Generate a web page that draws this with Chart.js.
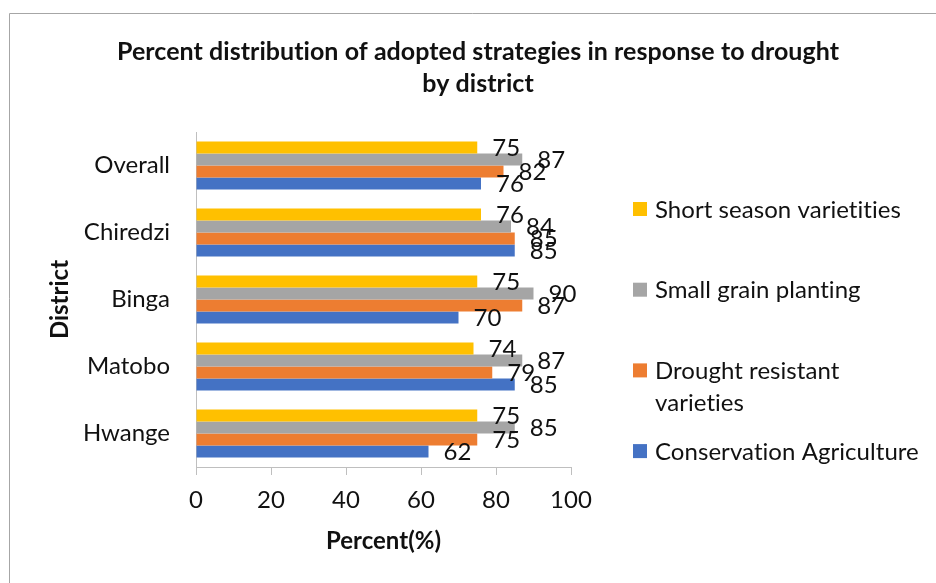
<!DOCTYPE html>
<html><head><meta charset="utf-8">
<script src="https://cdn.jsdelivr.net/npm/chart.js@4.4.1/dist/chart.umd.min.js"></script>
<style>html,body{margin:0;padding:0;background:#fff;} canvas{display:block;}</style>
</head><body>
<canvas id="c" width="936" height="583"></canvas>
<script>
const titleLines = ['Percent distribution of adopted strategies in response to drought', 'by district'];
const districts = ['Overall', 'Chiredzi', 'Binga', 'Matobo', 'Hwange'];
const seriesNames = ['Short season varietities', 'Small grain planting', 'Drought resistant varieties', 'Conservation Agriculture'];
const shortSeason = [75, 76, 75, 74, 75];
const smallGrain = [87, 84, 90, 87, 85];
const droughtResistant = [82, 85, 87, 79, 75];
const conservationAg = [76, 85, 70, 85, 62];
const xTicks = [0, 20, 40, 60, 80, 100];
const xTitle = 'Percent(%)';
const yTitle = 'District';
const seriesColors = ['#FFC000', '#A5A5A5', '#ED7D31', '#4472C4'];
const seriesValues = [shortSeason, smallGrain, droughtResistant, conservationAg];

const FONT = 'Lato';
const TXT = '#111111';
const AXIS = '#BFBFBF';

const decor = {
  id: 'decor',
  beforeDraw(chart) {
    const ctx = chart.ctx;
    ctx.save();
    ctx.fillStyle = '#fff';
    ctx.fillRect(0, 0, chart.width, chart.height);
    ctx.strokeStyle = '#A6A6A6';
    ctx.lineWidth = 1;
    ctx.beginPath();
    ctx.moveTo(9.5, chart.height);
    ctx.lineTo(9.5, 13.5);
    ctx.lineTo(chart.width, 13.5);
    ctx.stroke();
    ctx.restore();
  },
  afterDraw(chart) {
    const ctx = chart.ctx;
    ctx.save();
    if ('letterSpacing' in ctx) ctx.letterSpacing = '0.05px';
    // title
    ctx.fillStyle = TXT;
    ctx.font = 'bold 25px ' + FONT;
    ctx.textAlign = 'center';
    ctx.textBaseline = 'middle';
    titleLines.forEach((t, i) => ctx.fillText(t, 478, 52 + i * 32));
    // data labels
    ctx.font = '24px ' + FONT;
    ctx.textAlign = 'left';
    chart.data.datasets.forEach((ds, i) => {
      const meta = chart.getDatasetMeta(i);
      meta.data.forEach((bar, j) => {
        ctx.fillText(String(ds.data[j]), bar.x + 15, bar.y + 1);
      });
    });
    // legend
    const maxW = 272;
    chart.data.datasets.forEach((ds, i) => {
      const y = 209 + i * 80.7;
      ctx.fillStyle = ds.backgroundColor;
      ctx.fillRect(633, y - 7, 14, 14);
      ctx.fillStyle = TXT;
      const words = ds.label.split(' ');
      const lines = [];
      let cur = '';
      words.forEach(w => {
        const test = cur ? cur + ' ' + w : w;
        if (ctx.measureText(test).width > maxW && cur) { lines.push(cur); cur = w; }
        else cur = test;
      });
      lines.push(cur);
      lines.forEach((l, k) => ctx.fillText(l, 655, y + 1 + k * 32));
    });
    ctx.restore();
  }
};

function draw() {
  new Chart(document.getElementById('c'), {
    type: 'bar',
    data: {
      labels: districts,
      datasets: seriesNames.map((n, i) => ({
        label: n,
        data: seriesValues[i],
        backgroundColor: seriesColors[i],
        categoryPercentage: 0.72,
        barPercentage: 1,
        borderWidth: 0
      }))
    },
    options: {
      indexAxis: 'y',
      responsive: false,
      animation: false,
      layout: { padding: { left: 0, right: 365, top: 132, bottom: 0 } },
      plugins: { legend: { display: false }, title: { display: false }, tooltip: { enabled: false } },
      scales: {
        x: {
          min: 0, max: 100,
          afterBuildTicks: s => { s.ticks = xTicks.map(v => ({ value: v })); },
          ticks: { font: { family: FONT, size: 24 }, color: TXT, padding: 11 },
          grid: { drawOnChartArea: false, drawTicks: true, tickLength: 8, color: AXIS },
          border: { display: true, color: AXIS, width: 1 },
          title: { display: true, text: xTitle, color: TXT, font: { family: FONT, size: 24, weight: 'bold' }, padding: { top: 0, bottom: 27 } },
          afterFit: s => { s.height = 116; }
        },
        y: {
          ticks: { font: { family: FONT, size: 24 }, color: TXT, padding: 26 },
          grid: { drawOnChartArea: false, drawTicks: false, color: AXIS },
          border: { display: true, color: AXIS, width: 1 },
          title: { display: true, text: yTitle, color: TXT, font: { family: FONT, size: 24, weight: 'bold' }, padding: { top: 46, bottom: 0 } },
          afterFit: s => { s.width = 196; }
        }
      }
    },
    plugins: [decor]
  });
}
if (document.fonts && document.fonts.load) {
  Promise.all([document.fonts.load('24px Lato'), document.fonts.load('bold 24px Lato')]).then(draw, draw);
} else draw();
</script>
</body></html>
